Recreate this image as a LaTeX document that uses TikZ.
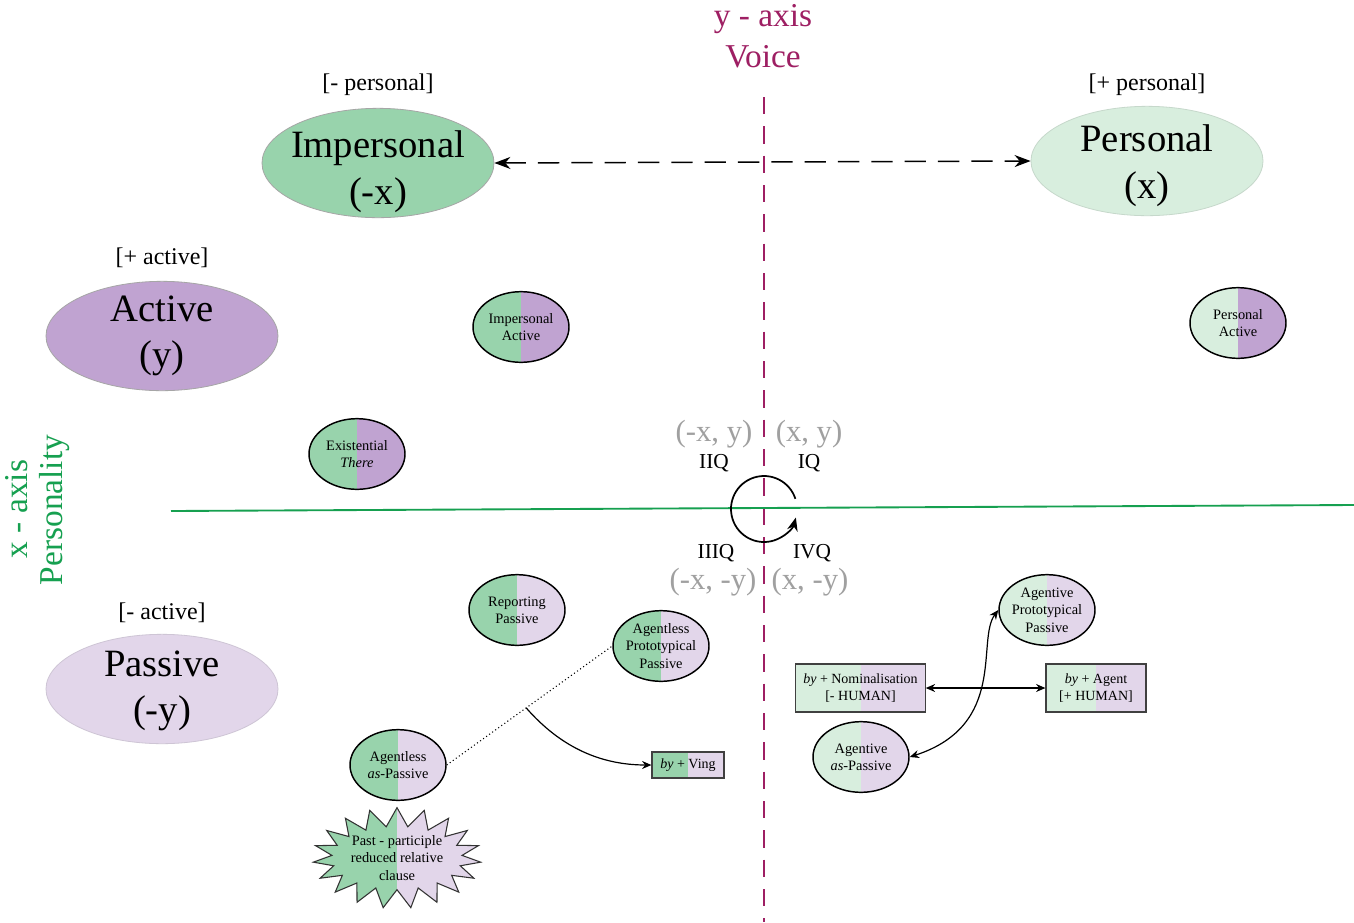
\documentclass[tikz,border=0pt]{standalone}
\usepackage{fontspec}
\setmainfont{Liberation Serif}
\usetikzlibrary{shapes.geometric,shapes.symbols,arrows.meta}
\definecolor{mgreen}{RGB}{152,211,172}
\definecolor{lgreen}{RGB}{216,238,222}
\definecolor{mpurple}{RGB}{192,163,209}
\definecolor{lpurple}{RGB}{226,214,234}
\definecolor{voicecol}{RGB}{158,31,99}
\definecolor{perscol}{RGB}{22,160,80}
\definecolor{quadgrey}{RGB}{160,160,160}
\begin{document}
\begin{tikzpicture}[x=0.75pt,y=-0.75pt,
  big/.style={ellipse, draw=gray!70, line width=0.6pt, minimum width=174pt, minimum height=82pt,
    inner xsep=-20pt, inner ysep=-16pt, align=center, font=\fontsize{29}{35}\selectfont},
  small/.style={ellipse, draw=black, line width=1.1pt, minimum width=72pt, minimum height=53pt,
    inner sep=-4pt, align=center, font=\fontsize{10.8}{13}\selectfont},
  boxnode/.style={rectangle, draw=black!75, line width=0.9pt, inner sep=0pt, align=center,
    font=\fontsize{10.5}{13}\selectfont},
  halves/.style 2 args={path picture={
    \fill[#1] (path picture bounding box.south west) rectangle (path picture bounding box.north);
    \fill[#2] (path picture bounding box.north) rectangle (path picture bounding box.south east);}},
  tagtext/.style={font=\fontsize{18}{20}\selectfont},
  quadtext/.style={text=quadgrey, font=\fontsize{23}{25}\selectfont},
  qname/.style={font=\fontsize{16}{18}\selectfont},
  conn/.style={line width=0.9pt, >={Stealth[length=7pt,width=6pt]}},
]
\useasboundingbox[fill=white] (0,0) rectangle (1354,922);

% axes
\coordinate (ytop) at (764,97);
\coordinate (ybot) at (764,922);
\coordinate (xl) at (171,511);
\coordinate (xr) at (1354,505);
\coordinate (cc) at (764,509);
\draw[voicecol, line width=1.5pt, dash pattern=on 13pt off 9pt] (ytop) -- (ybot);
\draw[perscol, line width=1.4pt] (xl) -- (xr);

\node[text=voicecol, font=\fontsize{25}{27}\selectfont] (yax) at (763,19) {y - axis};
\node[text=voicecol, font=\fontsize{25}{27}\selectfont] (voice) at (763,57) {Voice};
\node[text=perscol, rotate=90, font=\fontsize{25}{27}\selectfont] (xax) at (17,509) {x - axis};
\node[text=perscol, rotate=90, font=\fontsize{25}{27}\selectfont] (pers) at (55,510) {Personality};

% rotation arrow
\draw[line width=1.3pt, -{Stealth[length=10pt,width=8pt]}] ([shift={(-18:33)}]cc) arc[start angle=-18, end angle=-345, x radius=33, y radius=33];

% quadrant labels
\node[quadtext] (q2c) at (714,434) {(-x, y)};
\node[quadtext] (q1c) at (809,434) {(x, y)};
\node[qname] (q2) at (714,463) {IIQ};
\node[qname] (q1) at (809,463) {IQ};
\node[qname] (q3) at (716,553) {IIIQ};
\node[qname] (q4) at (812,553) {IVQ};
\node[quadtext] (q3c) at (713,582) {(-x, -y)};
\node[quadtext] (q4c) at (810,582) {(x, -y)};

% big ellipses
\node[big, fill=mgreen] (imp) at (378,163) {\raisebox{-10pt}{}};
\node[font=\fontsize{29}{35}\selectfont, align=center] (impt) at (378,172) {Impersonal\\(-x)};
\node[big, fill=lgreen, draw=lgreen!80!gray] (per) at (1147,161) {};
\node[font=\fontsize{29}{35}\selectfont, align=center] (pert) at (1147,166) {Personal\\(x)};
\node[big, fill=mpurple] (act) at (162,336) {Active\\(y)};
\node[big, fill=lpurple, draw=lpurple!80!gray] (pas) at (162,689) {};
\node[font=\fontsize{29}{35}\selectfont, align=center] (past) at (162,691) {Passive\\(-y)};

\node[tagtext] (tmp) at (378,85) {[- personal]};
\node[tagtext] (tpp) at (1147,85) {[+ personal]};
\node[tagtext] (tpa) at (162,258) {[+ active]};
\node[tagtext] (tma) at (162,613) {[- active]};

\draw[line width=1.1pt, <->, >={Stealth[length=12pt,width=9pt]}, dash pattern=on 16pt off 9pt] (imp.east) -- (per.west);

% small ellipses
\node[small, halves={mgreen}{mpurple}] (ia) at (521,327) {Impersonal\\Active};
\node[small, halves={lgreen}{mpurple}] (pa) at (1238,323) {Personal\\Active};
\node[small, halves={mgreen}{mpurple}] (et) at (357,454) {Existential\\\textit{There}};
\node[small, halves={mgreen}{lpurple}] (rp) at (517,610) {Reporting\\Passive};
\node[small, halves={mgreen}{lpurple}] (app) at (661,646) {Agentless\\Prototypical\\Passive};
\node[small, halves={mgreen}{lpurple}] (aas) at (398,765) {Agentless\\\textit{as}-Passive};
\node[starburst, starburst points=19, starburst point height=14pt, random starburst=0,
  minimum width=121pt, minimum height=72pt, inner sep=0pt, draw=black!80, line width=0.8pt,
  halves={mgreen}{lpurple}, align=center, font=\fontsize{10.8}{13}\selectfont] (ppr) at (397,858)
  {Past - participle\\reduced relative\\clause};
\node[boxnode, minimum width=54pt, minimum height=19.5pt, halves={mgreen}{lpurple}] (ving) at (688,765) {\textit{by} + Ving};

\node[small, halves={lgreen}{lpurple}] (agp) at (1047,610) {Agentive\\Prototypical\\Passive};
\node[boxnode, minimum width=97pt, minimum height=36pt, halves={lgreen}{lpurple}] (nom) at (860.5,688) {\textit{by} + Nominalisation\\{}[- HUMAN]};
\node[boxnode, minimum width=75pt, minimum height=36pt, halves={lgreen}{lpurple}] (agt) at (1096,688) {\textit{by} + Agent\\{}[+ HUMAN]};
\node[small, halves={lgreen}{lpurple}] (aap) at (861,757) {Agentive\\\textit{as}-Passive};

% connectors
\draw[line width=0.8pt, dotted] (aas.east) -- coordinate[pos=0.48] (mid) (app.west);
\draw[conn, ->] (mid) .. controls +(35,40) and +(-50,0) .. (ving.west);
\draw[conn, <->] (nom.east) -- (agt.west);
\draw[conn, <->] (agp.west) .. controls (976,640) and (1008,725) .. (aap.east);
\end{tikzpicture}
\end{document}
